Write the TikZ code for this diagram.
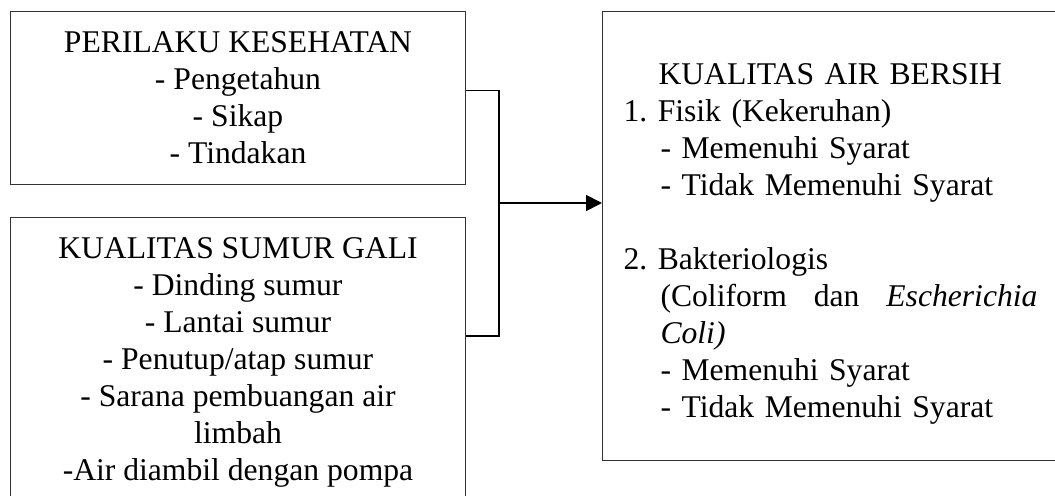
\documentclass[tikz,border=0pt]{standalone}
\usepackage{fontspec}
\setmainfont{Liberation Serif}
\usetikzlibrary{arrows.meta,positioning,calc}
\frenchspacing

\begin{document}
\begin{tikzpicture}[
    x=0.02cm,y=-0.02cm,
    varbox/.style={draw=black!80,line width=0.6pt,anchor=north west,inner sep=0pt,
      font=\fontsize{18}{21.1}\selectfont},
    link/.style={line width=1pt,color=black},
    flow/.style={-{Triangle[length=0.32cm,width=0.32cm]},line width=1pt,color=black}
  ]
    \useasboundingbox (0,0) rectangle (1055,496);
    \node[varbox,align=center,minimum width=9.1cm,minimum height=3.46cm] (perilaku) at (10,11)
      {PERILAKU KESEHATAN\\- Pengetahun\\- Sikap\\- Tindakan};
    \node[varbox,align=center,minimum width=9.1cm,minimum height=5.8cm] (sumur) at (10,217)
      {KUALITAS SUMUR GALI\\- Dinding sumur\\- Lantai sumur\\- Penutup/atap sumur\\
       - Sarana pembuangan air\\limbah\\-Air diambil dengan pompa};
    \node[varbox,align=left,text width=8.42cm,minimum width=9.26cm,minimum height=8.98cm] (air) at (602,11)
      {\rule{0pt}{21pt}\hspace*{0.7cm}KUALITAS AIR BERSIH\\
       1. Fisik (Kekeruhan)\\
       \hspace*{0.74cm}- Memenuhi Syarat\\
       \hspace*{0.74cm}- Tidak Memenuhi Syarat\\[21.1pt]
       2. Bakteriologis\\
       \hspace*{0.74cm}\makebox[7.54cm][l]{(Coliform\hfill dan\hfill \textit{Escherichia}}\\
       \hspace*{0.74cm}\textit{Coli)}\\
       \hspace*{0.74cm}- Memenuhi Syarat\\
       \hspace*{0.74cm}- Tidak Memenuhi Syarat};
    \coordinate (join) at (499,203);

    % kedua variabel bebas digabung lalu menuju variabel terikat
    \draw[link] ($(perilaku.north east)!0.457!(perilaku.south east)$) -| (join)
      |- ($(sumur.north east)!0.41!(sumur.south east)$);
    \draw[flow] (join) -- (air.west |- join);
  \end{tikzpicture}
\end{document}
